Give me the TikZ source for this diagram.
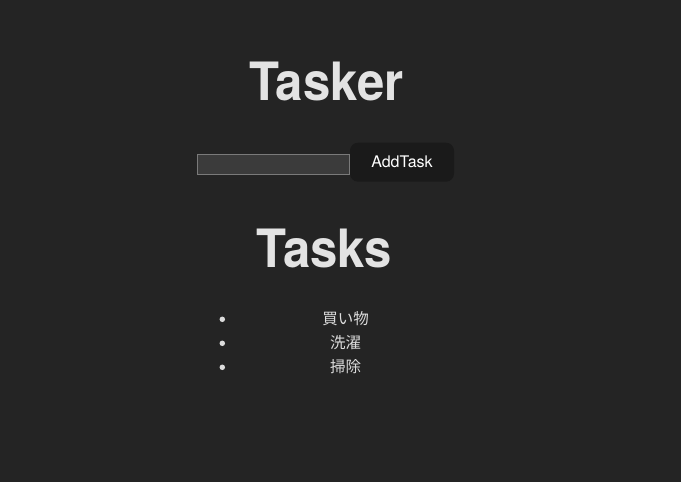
\documentclass[tikz,border=0pt]{standalone}
\usepackage{fontspec}
\setmainfont{TeX Gyre Heros}
\newfontfamily\headfont[FakeStretch=0.93]{TeX Gyre Heros}
\newfontfamily\jpfont{Noto Sans CJK JP}
\definecolor{pagebg}{HTML}{242424}
\definecolor{headfg}{HTML}{E3E3E3}
\definecolor{fieldbg}{HTML}{3B3B3B}
\definecolor{fieldline}{HTML}{7A7A7A}
\definecolor{btnbg}{HTML}{1A1A1A}
\definecolor{itemfg}{HTML}{DCDCDC}
\begin{document}
\begin{tikzpicture}[x=1pt,y=-1pt,
    heading/.style={text=headfg,font=\headfont\fontsize{52.8}{60}\selectfont\bfseries,anchor=base,inner sep=0pt},
    field/.style={draw=fieldline,fill=fieldbg,line width=1pt,minimum width=152pt,minimum height=20pt,inner sep=0pt},
    addbtn/.style={fill=btnbg,rounded corners=8pt,minimum width=104pt,minimum height=39pt,inner sep=0pt,text=white,font=\fontsize{16}{19}\selectfont},
    item/.style={text=itemfg,font=\jpfont\fontsize{15.5}{18}\selectfont,inner sep=0pt,anchor=base},
    dot/.style={circle,fill=itemfg,minimum size=5.5pt,inner sep=0pt}]
    \fill[pagebg] (0,0) rectangle (681,482);
    \useasboundingbox (0,0) rectangle (681,482);
    \node[heading] (title) at (326.5,100.7) {Tasker};
    \node[field] (input) at (273.3,164.3) {};
    \node[addbtn] (add) at (402,162.2) {AddTask};
    \node[heading] (tasks) at (324.5,267.7) {Tasks};
    \foreach \txt [count=\i] in {買い物,洗濯,掃除} {
        \node[dot] (dot\i) at (222.3,{295.3+24*\i}) {};
        \node[item] (task\i) at (345.5,{300.4+24*\i}) {\txt};
    }
\end{tikzpicture}
\end{document}
